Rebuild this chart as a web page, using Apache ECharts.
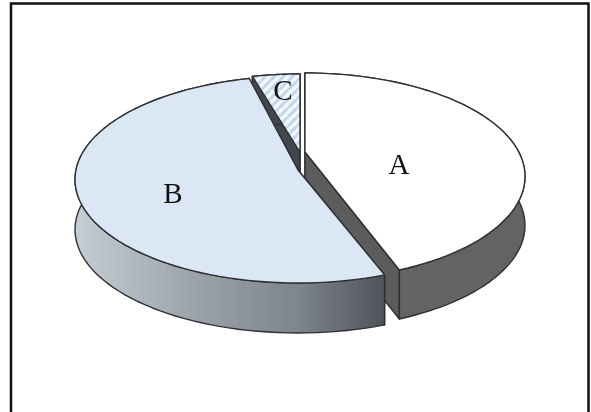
<!DOCTYPE html>
<html>
<head>
<meta charset="utf-8">
<style>
  html, body { margin: 0; padding: 0; background: #fff; }
  #chart { width: 591px; height: 412px; }
</style>
</head>
<body>
<div id="chart"></div>
<script src="https://cdn.jsdelivr.net/npm/echarts@6/dist/echarts.min.js"></script>
<script>
// slice data, clockwise from 12 o'clock
const sliceNames = ['A', 'B', 'C']
const sliceValues = [44.2, 51.4, 4.4]

// how each exploded slice sits on the page
const sliceShapes = [
  { cx: 305, apexY: 152, top: 73, bottom: 280, halfW: 220, depth: 49, trim: [0, 0.8], z: 2 },
  { cx: 298, apexY: 170, top: 76, bottom: 283, halfW: 223, depth: 50, trim: [0, 2], z: 3 },
  { cx: 300, apexY: 152, top: 74, bottom: 278, halfW: 220, depth: 50, trim: [0, 0], z: 1 }
]
const labelPos = [[399, 166], [173, 195], [283, 92]]

const bWall = ['#c6ced5', '#9aa1a9', '#7f858d', '#4d525b']
const bWallStops = [0, 0.4, 0.72, 1]

// hatch tile for slice C
const hatch = document.createElement('canvas')
hatch.width = 9
hatch.height = 9
const hctx = hatch.getContext('2d')
hctx.fillStyle = '#f3f7fb'
hctx.fillRect(0, 0, 9, 9)
hctx.strokeStyle = '#c0d6ec'
hctx.lineWidth = 3
for (const o of [-9, 0, 9]) {
  hctx.beginPath()
  hctx.moveTo(o, 9)
  hctx.lineTo(o + 9, 0)
  hctx.stroke()
}

const sliceStyles = [
  { top: '#ffffff', cut: '#5c5c5c', wall: '#636363' },
  { top: '#dbe7f5', cut: '#4d525b', wall: { type: 'linear', x: 0, y: 0, x2: 1, y2: 0,
      colorStops: bWall.map((color, i) => ({ offset: bWallStops[i], color })) } },
  { top: { image: hatch, repeat: 'repeat' }, cut: '#41464f', wall: '#41464f' }
]

const total = sliceValues.reduce((a, b) => a + b, 0)

// perspective circle: angle in degrees from the top, clockwise
const project = (s, deg) => {
  const t = deg * Math.PI / 180
  const u = Math.sin(t)
  const v = -Math.cos(t)
  const c = (2 * s.apexY - s.top - s.bottom) / (s.bottom - s.top)
  const a = s.apexY - s.top * (1 - c)
  const k = s.halfW * Math.sqrt(1 - c * c)
  const w = 1 + c * v
  return [s.cx + k * u / w, (a * v + s.apexY) / w]
}

const down = (p, d) => [p[0], p[1] + d]

const renderSlice = (params, api) => {
  const i = params.dataIndex
  const s = sliceShapes[i]
  const st = sliceStyles[i]
  let from = 0
  for (let n = 0; n < i; n++) from += sliceValues[n]
  const start = from / total * 360 + s.trim[0]
  const end = (from + api.value(0)) / total * 360 + s.trim[1]

  const arc = []
  for (let n = 0; n <= 80; n++) arc.push(project(s, start + (end - start) * n / 80))
  const apex = [s.cx, s.apexY]
  const line = { stroke: '#2e3033', lineWidth: 1.4, lineJoin: 'round' }

  const cutWall = (p) => ({
    type: 'polygon', z2: s.z,
    shape: { points: [apex, p, down(p, s.depth), down(apex, s.depth)] },
    style: { fill: st.cut, ...line }
  })
  const wallPts = arc.concat(arc.map((p) => down(p, s.depth)).reverse())

  return {
    type: 'group',
    children: [
      cutWall(arc[0]),
      cutWall(arc[arc.length - 1]),
      { type: 'polygon', z2: s.z, shape: { points: wallPts }, style: { fill: st.wall, ...line } },
      { type: 'polygon', z2: s.z, shape: { points: [apex].concat(arc) }, style: { fill: st.top, ...line } },
      { type: 'text', z2: 10, style: {
          x: labelPos[i][0], y: labelPos[i][1], text: sliceNames[i],
          fill: '#111', font: '29px "Liberation Serif"', align: 'center', verticalAlign: 'middle'
      } }
    ]
  }
}

const chart = echarts.init(document.getElementById('chart'), null, { renderer: 'canvas' })
chart.setOption({
  animation: false,
  backgroundColor: '#fff',
  graphic: [{
    type: 'rect', z: -1,
    shape: { x: 11, y: 3.5, width: 577.5, height: 430 },
    style: { fill: 'none', stroke: '#111', lineWidth: 2.5 }
  }],
  series: [{
    type: 'custom',
    coordinateSystem: 'none',
    renderItem: renderSlice,
    data: sliceValues.map((value, i) => ({ name: sliceNames[i], value: [value] }))
  }]
})
</script>
</body>
</html>
